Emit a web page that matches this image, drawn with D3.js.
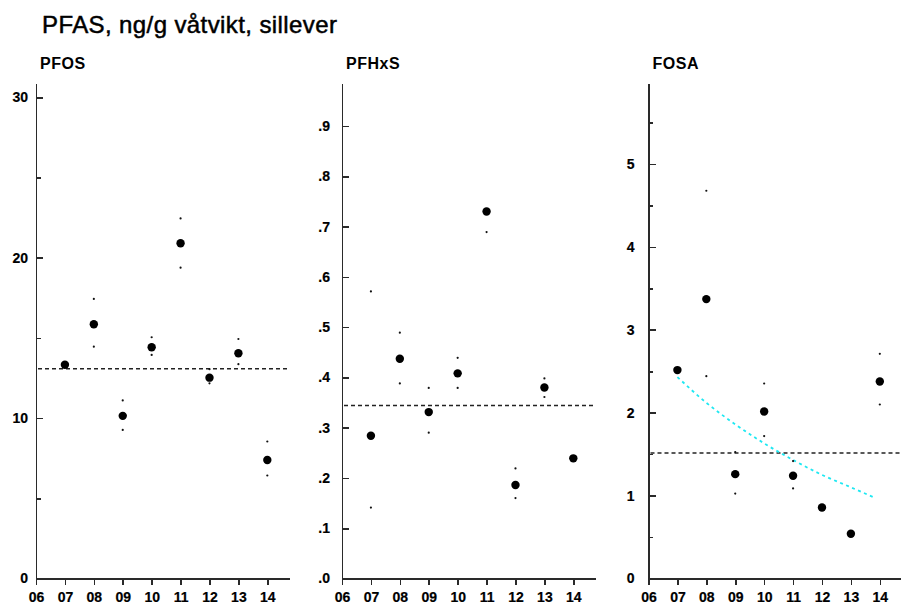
<!DOCTYPE html>
<html>
<head>
<meta charset="utf-8">
<script src="https://cdn.jsdelivr.net/npm/d3@7"></script>
<style>
  html, body { margin: 0; padding: 0; background: #fff; }
  svg { display: block; font-family: "Liberation Sans", Arial, Helvetica, sans-serif; }
  .axis path, .axis line { stroke: #2a2a2a; stroke-width: 1.6; shape-rendering: crispEdges; }
  .axis text { font-size: 14px; font-weight: bold; fill: #000; stroke: #000; stroke-width: 0.2;
               font-family: "Liberation Sans", Arial, sans-serif; }
</style>
</head>
<body>
<script>
// Sampling years
const years = [2007, 2008, 2009, 2010, 2011, 2012, 2013, 2014];
const xTicks = [2006, 2007, 2008, 2009, 2010, 2011, 2012, 2013, 2014];

// PFOS (ng/g wet weight) – yearly value with upper and lower interval points
const pfosValue = [13.33, 15.85, 10.14, 14.42, 20.9, 12.52, 14.04, 7.39];
const pfosUpper = [null, 17.43, 11.1, 15.04, 22.45, 13.05, 14.93, 8.54];
const pfosLower = [null, 14.45, 9.26, 13.94, 19.38, 12.17, 13.36, 6.42];
const pfosMean = 13.08;
const pfosMajor = [0, 10, 20, 30];
const pfosMinor = [5, 15, 25];

// PFHxS
const pfhxsValue = [0.284, 0.437, 0.331, 0.408, 0.730, 0.186, 0.380, 0.239];
const pfhxsUpper = [0.571, 0.489, 0.379, 0.439, null, 0.219, 0.398, null];
const pfhxsLower = [0.141, 0.388, 0.290, 0.379, 0.689, 0.160, 0.361, null];
const pfhxsMean = 0.344;
const pfhxsMajor = [0, 0.1, 0.2, 0.3, 0.4, 0.5, 0.6, 0.7, 0.8, 0.9];
const pfhxsMinor = [];

// FOSA
const fosaValue = [2.514, 3.37, 1.259, 2.015, 1.239, 0.857, 0.539, 2.376];
const fosaUpper = [null, 4.677, 1.525, 2.352, 1.416, null, null, 2.71];
const fosaLower = [null, 2.441, 1.025, 1.718, 1.086, null, null, 2.099];
const fosaMean = 1.513;
const fosaMajor = [0, 1, 2, 3, 4, 5];
const fosaMinor = [0.5, 1.5, 2.5, 3.5, 4.5, 5.5];
// Fitted log-linear trend for FOSA
const fosaTrendYears = [2007, 2008, 2009, 2010, 2011, 2012, 2013, 2013.85];
const fosaTrendValues = [2.43, 2.12, 1.86, 1.63, 1.43, 1.25, 1.10, 0.97];

const titleText = "PFAS, ng/g våtvikt, sillever";

const W = 901, H = 606;
const svg = d3.select("body").append("svg").attr("width", W).attr("height", H);

svg.append("text")
  .attr("x", 42).attr("y", 33)
  .attr("font-size", 24)
  .attr("letter-spacing", 0.4)
  .attr("fill", "#000")
  .attr("stroke", "#000").attr("stroke-width", 0.5)
  .text(titleText);

const panels = [
  { name: "PFOS", left: 36, yMax: 30.89, value: pfosValue, upper: pfosUpper, lower: pfosLower,
    mean: pfosMean, major: pfosMajor, minor: pfosMinor, pad: 8, fmt: d3.format("d") },
  { name: "PFHxS", left: 342, yMax: 0.9855, value: pfhxsValue, upper: pfhxsUpper, lower: pfhxsLower,
    mean: pfhxsMean, major: pfhxsMajor, minor: pfhxsMinor, pad: 12,
    fmt: d => d3.format(".1f")(d).replace(/^0/, "") },
  { name: "FOSA", left: 648.5, yMax: 5.977, value: fosaValue, upper: fosaUpper, lower: fosaLower,
    mean: fosaMean, major: fosaMajor, minor: fosaMinor, pad: 14, fmt: d3.format("d"),
    trendX: fosaTrendYears, trendY: fosaTrendValues }
];

const plotTop = 83, plotBottom = 578.5, plotWidth = 253;

panels.forEach(p => {
  const x = d3.scaleLinear().domain([2006, 2014.75]).range([p.left, p.left + plotWidth]);
  const y = d3.scaleLinear().domain([0, p.yMax]).range([plotBottom, plotTop]);
  const g = svg.append("g");

  // panel label
  g.append("text")
    .attr("x", p.left + 4).attr("y", 69)
    .attr("font-size", 16).attr("font-weight", "bold")
    .attr("letter-spacing", 0.5)
    .attr("fill", "#000")
    .text(p.name);

  // y axis: major ticks with labels, inward ticks
  g.append("g").attr("class", "axis")
    .attr("transform", `translate(${p.left},0)`)
    .call(d3.axisLeft(y).tickValues(p.major).tickFormat(p.fmt)
      .tickSizeInner(-7).tickSizeOuter(0).tickPadding(p.pad));

  // y axis: minor ticks
  if (p.minor.length) {
    const mg = g.append("g").attr("class", "axis")
      .attr("transform", `translate(${p.left},0)`)
      .call(d3.axisLeft(y).tickValues(p.minor).tickFormat("")
        .tickSizeInner(-4.5).tickSizeOuter(0));
    mg.select(".domain").remove();
  }

  // x axis
  g.append("g").attr("class", "axis")
    .attr("transform", `translate(0,${plotBottom})`)
    .call(d3.axisBottom(x).tickValues(xTicks)
      .tickFormat(d => String(d % 100).padStart(2, "0"))
      .tickSizeInner(6).tickSizeOuter(0).tickPadding(8));

  // mean line
  g.append("line")
    .attr("x1", p.left + 2).attr("x2", p.left + plotWidth)
    .attr("y1", y(p.mean)).attr("y2", y(p.mean))
    .attr("stroke", "#222").attr("stroke-width", 1.4)
    .attr("stroke-dasharray", "4,3");

  // trend curve
  if (p.trendX) {
    const pts = p.trendX.map((t, i) => [t, p.trendY[i]]);
    g.append("path")
      .datum(pts)
      .attr("fill", "none")
      .attr("stroke", "#1ee8f2")
      .attr("stroke-width", 1.8)
      .attr("stroke-dasharray", "3,3.5")
      .attr("d", d3.line().x(d => x(d[0])).y(d => y(d[1])).curve(d3.curveMonotoneX));
  }

  // interval points
  const small = [];
  years.forEach((yr, i) => {
    if (p.upper[i] != null) small.push([yr, p.upper[i]]);
    if (p.lower[i] != null) small.push([yr, p.lower[i]]);
  });
  g.selectAll("circle.small").data(small).join("circle")
    .attr("class", "small")
    .attr("cx", d => x(d[0])).attr("cy", d => y(d[1]))
    .attr("r", 1.1).attr("fill", "#111");

  // yearly values
  g.selectAll("circle.big").data(years.map((yr, i) => [yr, p.value[i]])).join("circle")
    .attr("class", "big")
    .attr("cx", d => x(d[0])).attr("cy", d => y(d[1]))
    .attr("r", 4.2).attr("fill", "#000");
});
</script>
</body>
</html>
